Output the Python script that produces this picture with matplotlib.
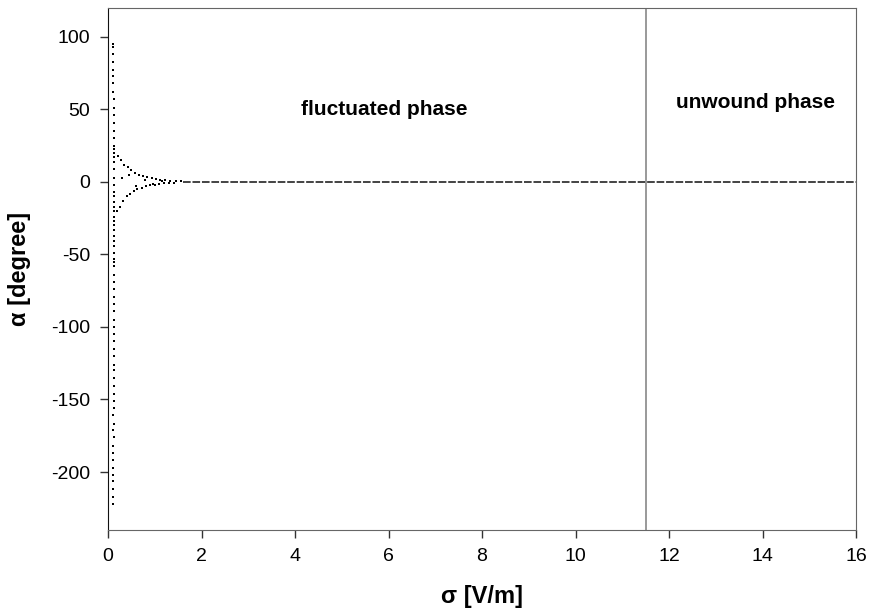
import matplotlib.pyplot as plt

# column of points at the smallest field
sigma_col = [0.10, 0.11, 0.10, 0.11, 0.11, 0.11, 0.11, 0.11, 0.12, 0.12,
             0.12, 0.12, 0.12, 0.12, 0.12, 0.13, 0.12, 0.12, 0.13, 0.13,
             0.12, 0.13, 0.12, 0.13, 0.12, 0.13, 0.12, 0.13, 0.12, 0.12,
             0.13, 0.12, 0.12, 0.12, 0.12, 0.12, 0.12, 0.12, 0.12, 0.12,
             0.12, 0.12, 0.12, 0.12, 0.12, 0.12, 0.12, 0.12, 0.12, 0.12,
             0.12, 0.12, 0.12, 0.12, 0.12, 0.12, 0.12, 0.11, 0.12, 0.11,
             0.12, 0.11, 0.11, 0.11, 0.11]
alpha_col = [95, 93, 88, 83, 77, 73, 68, 62, 57, 51,
             46, 41, 35, 30, 25, 23, 20, 17, 14, 9,
             3, -2, -7, -10, -14, -17, -20, -24, -27, -30,
             -33, -37, -41, -44, -49, -53, -55, -58, -64, -69,
             -74, -79, -84, -89, -95, -100, -105, -110, -115, -120,
             -126, -130, -135, -141, -146, -151, -156, -161, -167, -171,
             -176, -182, -187, -192, -197]
alpha_col_tail = [-202, -206, -212, -217, -222]
sigma_col_tail = [0.11, 0.11, 0.11, 0.11, 0.11]

# damped oscillation
sigma_osc = [0.22, 0.28, 0.35, 0.42, 0.50, 0.58, 0.66, 0.75, 0.84, 0.93,
             1.02, 1.12, 1.22, 1.33, 1.45, 1.57,
             0.20, 0.26, 0.33, 0.40, 0.47, 0.55, 0.63, 0.72, 0.81, 0.90,
             1.00, 1.10, 1.20, 1.31, 1.42,
             0.30, 0.45, 0.60, 0.78, 0.96, 1.15]
alpha_osc = [18, 15, 12, 10, 8, 6.5, 5, 4, 3.2, 2.5,
             2, 1.5, 1.2, 0.9, 0.6, 0.4,
             -20, -17, -13, -10, -8, -6.5, -5, -4, -3, -2.4,
             -1.8, -1.4, -1.0, -0.7, -0.5,
             3, 5, -3, 1.5, -1.2, 0.8]

# flat branch
sigma_flat = [1.6, 16]
alpha_flat = [0, 0]

sigma_boundary = 11.5

plt.rcParams['font.family'] = ['Liberation Sans', 'DejaVu Sans']
plt.rcParams['axes.unicode_minus'] = False

fig = plt.figure(figsize=(8.72, 6.14), dpi=100)
ax = fig.add_axes([0.1239, 0.1368, 0.8578, 0.8502])

ax.plot(sigma_col + sigma_col_tail, alpha_col + alpha_col_tail, 's', ms=1.6, color='black', mew=0)
ax.plot(sigma_osc, alpha_osc, 's', ms=1.8, color='black', mew=0)
ax.plot(sigma_flat, alpha_flat, color='#111111', lw=1.1, linestyle=(0, (5, 1.2)))
ax.axvline(sigma_boundary, color='#888888', lw=1.2)

ax.set_xlim(0, 16)
ax.set_ylim(-240, 120)
ax.set_xticks(range(0, 17, 2))
ax.set_yticks(range(-200, 101, 50))
ax.tick_params(direction='out', length=6, width=1, labelsize=14, pad=7, color='#333333')
for side in ['top', 'right', 'bottom']:
    ax.spines[side].set_color('#666666')
ax.spines['left'].set_color('#111111')

ax.set_xlabel('σ [V/m]', fontsize=17, fontweight='bold', labelpad=14)
ax.set_ylabel('α [degree]', fontsize=17, fontweight='bold', labelpad=14)
ax.text(5.9, 50, 'fluctuated phase', fontsize=15, fontweight='bold', ha='center', va='center')
ax.text(13.85, 55, 'unwound phase', fontsize=15, fontweight='bold', ha='center', va='center')

fig.savefig('out.png', dpi=100)
